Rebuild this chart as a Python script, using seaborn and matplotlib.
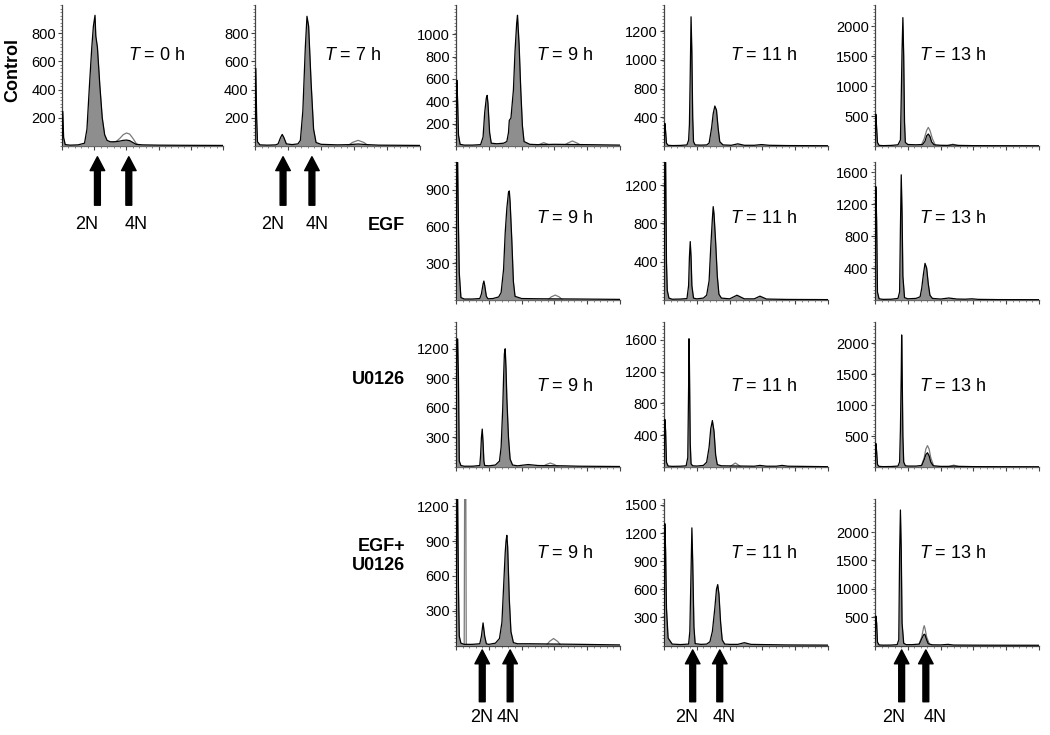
import matplotlib
matplotlib.use("Agg")
import matplotlib.pyplot as plt
from matplotlib.ticker import MultipleLocator
import seaborn as sns

# DNA content histograms: (channel, cell count) vertices
ctrl_0h_ch = [0, 1, 2, 4, 10, 20, 28, 31, 34, 37, 39, 41, 42, 44, 47, 50, 53, 56, 60, 66, 72, 76, 80, 84, 88, 92, 100, 120, 150, 200]
ctrl_0h_n = [0, 245, 60, 10, 6, 8, 20, 120, 420, 700, 850, 927, 780, 700, 430, 200, 80, 40, 30, 30, 35, 40, 42, 38, 25, 12, 8, 6, 5, 4]
ctrl_0h_fit_ch = [50, 56, 62, 68, 72, 76, 80, 84, 88, 92, 96]
ctrl_0h_fit_n = [0, 10, 22, 35, 55, 80, 92, 85, 55, 20, 0]

ctrl_7h_ch = [0, 1, 2, 3, 6, 15, 25, 28, 31, 33, 35, 38, 45, 52, 55, 58, 61, 63, 65, 68, 71, 74, 80, 100, 115, 125, 135, 150, 200]
ctrl_7h_n = [0, 550, 200, 30, 8, 6, 8, 15, 60, 82, 60, 15, 10, 15, 40, 250, 700, 920, 850, 450, 120, 25, 12, 8, 10, 14, 10, 6, 4]
ctrl_7h_fit_ch = [112, 118, 125, 132, 138]
ctrl_7h_fit_n = [0, 25, 40, 25, 0]

ctrl_9h_ch = [0, 1, 2, 3, 5, 10, 20, 30, 33, 35, 37, 38, 39, 41, 43, 50, 58, 62, 64, 65, 67, 70, 72, 74, 75, 77, 79, 81, 83, 90, 100, 120, 160, 200]
ctrl_9h_n = [0, 590, 400, 100, 15, 8, 8, 12, 80, 300, 430, 453, 380, 120, 25, 20, 25, 40, 120, 230, 250, 500, 850, 1100, 1170, 900, 500, 180, 40, 15, 12, 15, 12, 8]
ctrl_9h_fit_ch = [98, 102, 107, 112, 116, 131, 136, 142, 148, 154]
ctrl_9h_fit_n = [0, 15, 30, 15, 0, 0, 25, 45, 25, 0]

ctrl_11h_ch = [0, 1, 2, 3, 5, 10, 20, 28, 30, 31, 32, 33, 34, 35, 36, 38, 45, 52, 55, 58, 60, 62, 64, 66, 68, 72, 82, 90, 98, 110, 119, 128, 150, 200]
ctrl_11h_n = [0, 316, 200, 40, 10, 6, 8, 15, 80, 300, 1000, 1800, 1300, 400, 60, 15, 12, 15, 40, 250, 450, 557, 500, 250, 60, 15, 10, 30, 10, 10, 20, 10, 6, 4]

ctrl_13h_ch = [0, 1, 2, 3, 5, 10, 20, 28, 31, 32, 33, 34, 35, 36, 37, 40, 50, 58, 61, 63, 65, 67, 69, 72, 80, 88, 95, 102, 120, 150, 200]
ctrl_13h_n = [0, 530, 300, 60, 10, 6, 10, 20, 100, 800, 1600, 2140, 1500, 400, 60, 25, 20, 25, 80, 170, 200, 160, 70, 20, 12, 10, 20, 10, 6, 5, 4]
ctrl_13h_fit_ch = [56, 60, 63, 65, 67, 70, 74, 88, 95, 102]
ctrl_13h_fit_n = [0, 120, 260, 310, 260, 120, 0, 0, 30, 0]

egf_9h_ch = [0, 1, 2, 3, 4, 6, 10, 20, 29, 31, 33, 34, 35, 37, 39, 45, 52, 55, 58, 60, 62, 64, 65, 66, 68, 70, 72, 80, 100, 150, 200]
egf_9h_n = [0, 1129, 1129, 600, 220, 20, 8, 8, 12, 50, 130, 155, 120, 30, 10, 12, 25, 60, 250, 550, 750, 880, 892, 800, 500, 150, 30, 12, 10, 8, 5]
egf_9h_fit_ch = [112, 116, 121, 126, 130]
egf_9h_fit_n = [0, 25, 40, 25, 0]

egf_11h_ch = [0, 1, 2, 3, 4, 6, 10, 20, 28, 30, 31, 32, 33, 34, 36, 40, 48, 52, 55, 57, 59, 60, 61, 63, 65, 67, 70, 80, 89, 98, 110, 117, 125, 150, 200]
egf_11h_n = [0, 1441, 1441, 400, 100, 20, 8, 10, 15, 150, 450, 610, 450, 150, 20, 12, 20, 50, 200, 550, 850, 975, 900, 600, 250, 60, 20, 12, 50, 12, 12, 40, 10, 6, 4]

egf_13h_ch = [0, 1, 2, 3, 5, 10, 20, 28, 30, 31, 32, 33, 34, 36, 40, 50, 55, 57, 59, 61, 63, 65, 67, 70, 80, 90, 100, 110, 118, 126, 150, 200]
egf_13h_n = [0, 1422, 1000, 100, 15, 8, 10, 20, 100, 900, 1570, 1100, 300, 30, 15, 20, 40, 150, 320, 460, 400, 200, 60, 20, 12, 25, 12, 10, 15, 8, 5, 4]

u0126_9h_ch = [0, 1, 2, 3, 4, 6, 10, 20, 29, 30, 31, 32, 33, 34, 35, 40, 48, 53, 55, 57, 58, 59, 60, 61, 62, 64, 66, 69, 75, 88, 100, 130, 150, 200]
u0126_9h_n = [0, 1300, 1300, 900, 60, 15, 8, 8, 15, 120, 300, 385, 250, 60, 15, 12, 20, 60, 200, 600, 900, 1150, 1200, 1000, 700, 300, 80, 20, 12, 25, 15, 12, 8, 5]
u0126_9h_fit_ch = [105, 110, 115, 120, 125]
u0126_9h_fit_n = [0, 25, 40, 25, 0]

u0126_11h_ch = [0, 1, 2, 3, 5, 10, 20, 27, 29, 30, 30.5, 31, 32, 33, 35, 40, 48, 52, 55, 57, 59, 61, 63, 65, 70, 95, 110, 117, 125, 137, 144, 151, 200]
u0126_11h_n = [0, 600, 450, 60, 12, 8, 10, 15, 120, 1000, 1615, 1300, 300, 40, 15, 12, 20, 60, 250, 480, 585, 450, 150, 30, 15, 12, 10, 20, 10, 10, 20, 10, 4]
u0126_11h_fit_ch = [80, 84, 87, 90, 94]
u0126_11h_fit_n = [0, 30, 50, 30, 0]

u0126_13h_ch = [0, 1, 2, 3, 5, 10, 20, 28, 30, 31, 32, 32.5, 33, 34, 35, 37, 40, 50, 57, 60, 62, 64, 66, 68, 71, 80, 89, 96, 103, 120, 150, 200]
u0126_13h_n = [0, 380, 250, 40, 10, 6, 8, 15, 80, 600, 1500, 2130, 1700, 500, 80, 20, 15, 15, 25, 120, 200, 230, 180, 80, 20, 10, 10, 15, 10, 6, 5, 4]
u0126_13h_fit_ch = [56, 60, 62, 64, 66, 68, 72, 89, 96, 103]
u0126_13h_fit_n = [0, 150, 290, 345, 290, 150, 0, 0, 30, 0]

egfu_9h_ch = [0, 1, 2, 3, 4, 6, 10, 20, 29, 31, 33, 35, 37, 40, 48, 53, 56, 58, 60, 61, 62, 63, 65, 67, 70, 75, 90, 150, 200]
egfu_9h_n = [0, 1263, 1263, 500, 80, 20, 10, 10, 15, 80, 195, 80, 15, 10, 20, 60, 200, 500, 800, 900, 950, 850, 400, 120, 25, 15, 15, 10, 5]
egfu_9h_fit_ch = [10, 10.5, 12, 12.5, 110, 114, 119, 124, 128]
egfu_9h_fit_n = [0, 1263, 1263, 0, 0, 35, 60, 35, 0]

egfu_11h_ch = [0, 1, 2, 3, 5, 10, 20, 30, 31.5, 33, 34, 35, 36.5, 38, 45, 52, 56, 59, 62, 64, 65.5, 67, 69, 71, 74, 80, 90, 98, 106, 120, 150, 200]
egfu_11h_n = [0, 1300, 1000, 400, 80, 15, 10, 15, 150, 800, 1255, 900, 200, 20, 12, 15, 40, 150, 400, 600, 650, 550, 250, 60, 15, 12, 12, 30, 12, 10, 6, 4]

egfu_13h_ch = [0, 1, 2, 3, 5, 10, 20, 27, 29, 30, 31, 32, 33, 35, 38, 45, 54, 57, 59, 60, 61, 63, 65, 70, 80, 89, 96, 120, 150, 200]
egfu_13h_n = [0, 520, 400, 60, 10, 6, 8, 15, 100, 1600, 2390, 1700, 400, 40, 15, 15, 25, 120, 180, 200, 190, 100, 30, 12, 10, 20, 8, 6, 5, 4]
egfu_13h_fit_ch = [53, 57, 59, 60, 61, 63, 67]
egfu_13h_fit_n = [0, 150, 300, 350, 300, 150, 0]

# y axis ranges and tick labels of each panel
ymax = {
    "ctrl_0h": 1000, "ctrl_7h": 1000, "ctrl_9h": 1262, "ctrl_11h": 1964, "ctrl_13h": 2350,
    "egf_9h": 1129, "egf_11h": 1441, "egf_13h": 1731,
    "u0126_9h": 1472, "u0126_11h": 1826, "u0126_13h": 2339,
    "egfu_9h": 1263, "egfu_11h": 1563, "egfu_13h": 2584,
}
yticks = {
    "ctrl_0h": [200, 400, 600, 800], "ctrl_7h": [200, 400, 600, 800],
    "ctrl_9h": [200, 400, 600, 800, 1000], "ctrl_11h": [400, 800, 1200, 1600],
    "ctrl_13h": [500, 1000, 1500, 2000],
    "egf_9h": [300, 600, 900], "egf_11h": [400, 800, 1200], "egf_13h": [400, 800, 1200, 1600],
    "u0126_9h": [300, 600, 900, 1200], "u0126_11h": [400, 800, 1200, 1600],
    "u0126_13h": [500, 1000, 1500, 2000],
    "egfu_9h": [300, 600, 900, 1200], "egfu_11h": [300, 600, 900, 1200, 1500],
    "egfu_13h": [500, 1000, 1500, 2000],
}
# the T = 11 h control panel is labelled this way in the original figure
ytick_labels_ctrl_11h = ["400", "800", "1000", "1200"]

times = {"ctrl_0h": "0", "ctrl_7h": "7", "ctrl_9h": "9", "ctrl_11h": "11", "ctrl_13h": "13",
         "egf_9h": "9", "egf_11h": "11", "egf_13h": "13",
         "u0126_9h": "9", "u0126_11h": "11", "u0126_13h": "13",
         "egfu_9h": "9", "egfu_11h": "11", "egfu_13h": "13"}

# 2N / 4N arrow channels
arrow_2n = {"ctrl_0h": 44, "ctrl_7h": 34, "egfu_9h": 32, "egfu_11h": 35, "egfu_13h": 32.5}
arrow_4n = {"ctrl_0h": 83, "ctrl_7h": 69, "egfu_9h": 66, "egfu_11h": 68, "egfu_13h": 62}

row_names = ["Control", "EGF", "U0126", "EGF+\nU0126"]

hist = {
    "ctrl_0h": (ctrl_0h_ch, ctrl_0h_n, ctrl_0h_fit_ch, ctrl_0h_fit_n),
    "ctrl_7h": (ctrl_7h_ch, ctrl_7h_n, ctrl_7h_fit_ch, ctrl_7h_fit_n),
    "ctrl_9h": (ctrl_9h_ch, ctrl_9h_n, ctrl_9h_fit_ch, ctrl_9h_fit_n),
    "ctrl_11h": (ctrl_11h_ch, ctrl_11h_n, None, None),
    "ctrl_13h": (ctrl_13h_ch, ctrl_13h_n, ctrl_13h_fit_ch, ctrl_13h_fit_n),
    "egf_9h": (egf_9h_ch, egf_9h_n, egf_9h_fit_ch, egf_9h_fit_n),
    "egf_11h": (egf_11h_ch, egf_11h_n, None, None),
    "egf_13h": (egf_13h_ch, egf_13h_n, None, None),
    "u0126_9h": (u0126_9h_ch, u0126_9h_n, u0126_9h_fit_ch, u0126_9h_fit_n),
    "u0126_11h": (u0126_11h_ch, u0126_11h_n, u0126_11h_fit_ch, u0126_11h_fit_n),
    "u0126_13h": (u0126_13h_ch, u0126_13h_n, u0126_13h_fit_ch, u0126_13h_fit_n),
    "egfu_9h": (egfu_9h_ch, egfu_9h_n, egfu_9h_fit_ch, egfu_9h_fit_n),
    "egfu_11h": (egfu_11h_ch, egfu_11h_n, None, None),
    "egfu_13h": (egfu_13h_ch, egfu_13h_n, egfu_13h_fit_ch, egfu_13h_fit_n),
}

# ---- layout (pixels of a 1050 x 735 canvas) ----
W, H = 1050, 735
col_left = [62, 255, 456, 664, 875]
col_width = [161, 165, 164, 164, 164]
row_top = [5, 162, 322, 499]
row_base = [146, 300, 467, 645.5]
label_x = [0.41, 0.42, 0.49, 0.40, 0.27]
label_y = [0.645, 0.594, 0.554, 0.63]
grid = [
    ["ctrl_0h", "ctrl_7h", "ctrl_9h", "ctrl_11h", "ctrl_13h"],
    [None, None, "egf_9h", "egf_11h", "egf_13h"],
    [None, None, "u0126_9h", "u0126_11h", "u0126_13h"],
    [None, None, "egfu_9h", "egfu_11h", "egfu_13h"],
]
# arrow geometry (axes fraction) for top row / bottom row, and label channels
arrow_geom = {0: (-0.076, -0.42, -0.56), 3: (-0.03, -0.384, -0.49)}
arrow_text_ch = {"ctrl_0h": (31, 92), "ctrl_7h": (22, 75), "egfu_9h": (31.5, 64),
                 "egfu_11h": (27.7, 73.6), "egfu_13h": (22.3, 73)}

sns.set_theme(style="ticks")
plt.rcParams["font.family"] = ["Liberation Sans", "DejaVu Sans"]
plt.rcParams["mathtext.fontset"] = "custom"
plt.rcParams["mathtext.it"] = "Liberation Sans:italic"
plt.rcParams["mathtext.rm"] = "Liberation Sans"
plt.rcParams["text.color"] = "black"
plt.rcParams["xtick.labelcolor"] = "black"
plt.rcParams["ytick.labelcolor"] = "black"

fig = plt.figure(figsize=(10.5, 7.35), dpi=100)
fig.patch.set_facecolor("white")

for r, row in enumerate(grid):
    for c, key in enumerate(row):
        if key is None:
            continue
        rect = [col_left[c] / W, 1 - row_base[r] / H, col_width[c] / W, (row_base[r] - row_top[r]) / H]
        ax = fig.add_axes(rect)
        ax.set_facecolor("white")
        ch, n, fch, fn = hist[key]
        if fch is not None:
            ax.fill_between(fch, 0, fn, color="white", zorder=1)
            sns.lineplot(x=fch, y=fn, sort=False, estimator=None, color="#7a7a7a",
                         lw=0.9, ax=ax, zorder=2)
        ax.fill_between(ch, 0, n, color="#8e8e8e", lw=0, zorder=3)
        sns.lineplot(x=ch, y=n, sort=False, estimator=None, color="black", lw=0.9, ax=ax, zorder=4)
        ax.set_xlim(0, 200)
        ax.set_ylim(0, ymax[key])
        ax.set_xlabel("")
        ax.set_ylabel("")
        sns.despine(ax=ax)
        for sp in ("left", "bottom"):
            ax.spines[sp].set_color("#444444")
            ax.spines[sp].set_linewidth(0.9)
        ax.set_yticks(yticks[key])
        if key == "ctrl_11h":
            ax.set_yticklabels(ytick_labels_ctrl_11h)
        else:
            ax.set_yticklabels([str(v) for v in yticks[key]])
        ax.xaxis.set_major_locator(MultipleLocator(40))
        ax.xaxis.set_minor_locator(MultipleLocator(8))
        ax.yaxis.set_minor_locator(MultipleLocator(ymax[key] / 40))
        ax.set_xticklabels([])
        ax.tick_params(axis="both", which="major", length=3, width=0.8, color="#444444",
                       labelsize=10.5, pad=1.5, labelcolor="black")
        ax.tick_params(axis="both", which="minor", length=1.5, width=0.6, color="#777777")
        ax.text(label_x[c], label_y[r], "$T$ = " + times[key] + " h", transform=ax.transAxes,
                ha="left", va="center", fontsize=13, color="black")
        if key in arrow_2n:
            tip, tail, ty = arrow_geom[r]
            tr = ax.get_xaxis_transform()
            for x_arrow, x_txt, txt in ((arrow_2n[key], arrow_text_ch[key][0], "2N"),
                                        (arrow_4n[key], arrow_text_ch[key][1], "4N")):
                ax.annotate("", xy=(x_arrow, tip), xytext=(x_arrow, tail), xycoords=tr,
                            textcoords=tr, annotation_clip=False,
                            arrowprops=dict(facecolor="black", edgecolor="black", width=4.2,
                                            headwidth=10.5, headlength=10, shrink=0))
                ax.text(x_txt, ty, txt, transform=tr, ha="center", va="center",
                        fontsize=13, color="black", clip_on=False)

fig.text(13 / W, 1 - 70 / H, row_names[0], rotation=90, ha="center", va="center",
         fontsize=13, fontweight="bold", color="black")
fig.text(405 / W, 1 - 226 / H, row_names[1], ha="right", va="center", fontsize=13,
         fontweight="bold", color="black")
fig.text(405 / W, 1 - 380 / H, row_names[2], ha="right", va="center", fontsize=13,
         fontweight="bold", color="black")
fig.text(405 / W, 1 - 556 / H, row_names[3], ha="right", va="center", fontsize=13,
         fontweight="bold", color="black", multialignment="right", linespacing=1.1)

fig.savefig("out.png", dpi=100, facecolor="white")
